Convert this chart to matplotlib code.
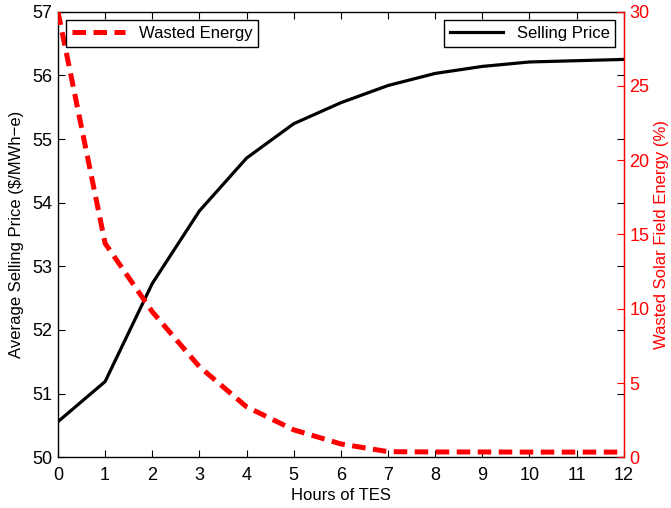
import matplotlib
matplotlib.use("Agg")
import matplotlib.pyplot as plt

hours = [0, 1, 2, 3, 4, 5, 6, 7, 8, 9, 10, 11, 12]
selling_price = [50.56, 51.19, 52.73, 53.87, 54.70, 55.24, 55.57, 55.84, 56.03, 56.14, 56.21, 56.23, 56.25]
wasted_energy = [30.0, 14.4, 9.8, 6.1, 3.4, 1.85, 0.9, 0.38, 0.36, 0.36, 0.35, 0.35, 0.35]

left_ticks = [50, 51, 52, 53, 54, 55, 56, 57]
right_ticks = [0, 5, 10, 15, 20, 25, 30]
x_ticks = list(range(0, 13))

plt.rcParams['font.family'] = ['Liberation Sans', 'DejaVu Sans']
fs = 13

fig = plt.figure(figsize=(6.71, 5.08), dpi=100)
ax = fig.add_axes([0.0864, 0.0998, 0.9295 - 0.0864, 0.977 - 0.0998])
ax2 = ax.twinx()

ax.plot(hours, selling_price, color='black', lw=2.3, label='Selling Price')
ax2.plot(hours, wasted_energy, color='red', lw=3.6, ls=(0, (2.7, 1.5)), label='Wasted Energy')

ax.set_xlim(0, 12)
ax.set_ylim(50, 57)
ax2.set_ylim(0, 30)
ax.set_xticks(x_ticks)
ax.set_yticks(left_ticks)
ax2.set_yticks(right_ticks)

ax.tick_params(axis='y', direction='in', length=5, width=0.8, labelsize=fs,
               right=True, labelright=False, pad=4)
ax.tick_params(axis='x', direction='in', length=5, width=0.8, labelsize=fs,
               top=True, pad=7)
ax2.tick_params(axis='y', direction='in', length=5, width=0.8, labelsize=fs,
                colors='red', pad=4)

for s in ['left', 'bottom', 'top']:
    ax.spines[s].set_linewidth(1.0)
for s in ['left', 'bottom', 'top']:
    ax2.spines[s].set_visible(False)
ax2.spines['right'].set_color('red')
ax2.spines['right'].set_linewidth(1.0)

ax.set_xlabel('Hours of TES', fontsize=12, labelpad=3)
ax.set_ylabel('Average Selling Price ($/MWh\u2212e)', fontsize=12, labelpad=6)
ax2.set_ylabel('Wasted Solar Field Energy (%)', fontsize=12, color='red', labelpad=3)

leg1 = ax2.legend(loc='upper left', fontsize=12, fancybox=False, framealpha=1,
                  edgecolor='black', borderaxespad=0.5, handlelength=3.2,
                  borderpad=0.35)
leg1.get_frame().set_linewidth(1.0)
leg2 = ax.legend(loc='upper right', fontsize=12, fancybox=False, framealpha=1,
                 edgecolor='black', borderaxespad=0.5, handlelength=3.2,
                 borderpad=0.35)
leg2.get_frame().set_linewidth(1.0)

fig.savefig('out.png', dpi=100)
